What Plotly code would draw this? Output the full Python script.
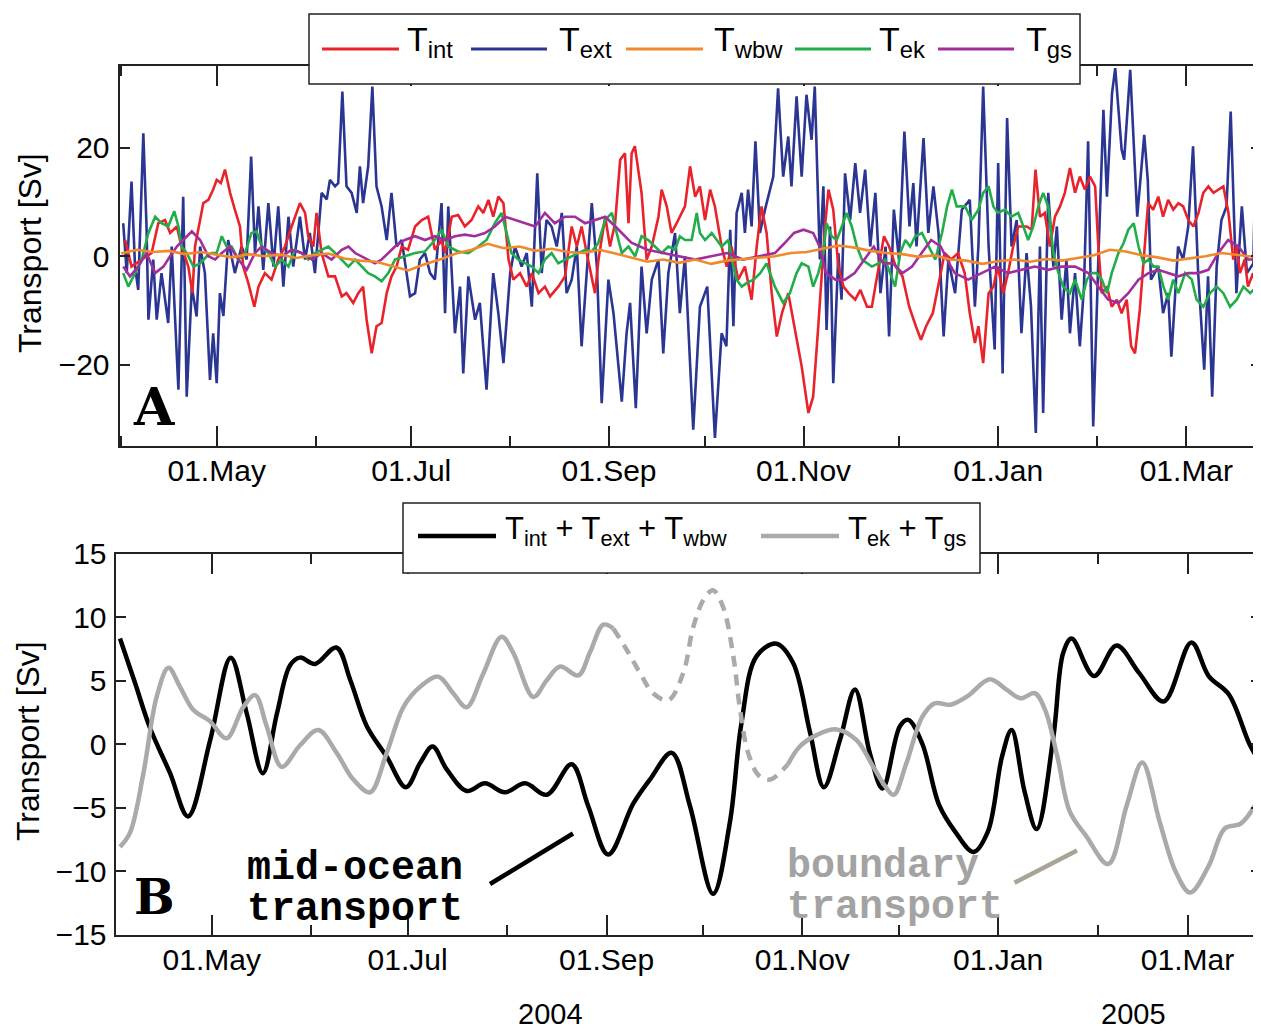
import pandas as pd
import plotly.graph_objects as go

START = pd.Timestamp("2004-04-01")

# ---------------- Panel A data (day offset from 2004-04-01, Sv) ----------------
ext_days = [0.7,1.8,3.3,4.4,5.4,7.0,8.0,8.6,10.1,11.2,12.7,14.8,15.9,18.0,19.5,20.6,22.2,23.7,24.8,26.3,
            27.9,28.9,30.0,31.0,32.1,33.6,35.7,37.8,39.4,40.8,42.0,43.1,44.6,46.2,47.8,49.3,50.9,52.5,54.0,56.1,
            57.7,59.2,60.8,62.9,64.5,65.5,67.1,68.1,69.4,70.7,72.3,73.9,74.9,75.9,77.5,78.8,80.1,81.7,83.3,84.8,
            86.4,88.0,
            90.6,92.2,93.7,95.3,96.9,98.4,100.5,101.6,102.6,104.7,106.3,107.3,108.9,111.0,112.5,114.6,116.7,118.3,119.9,122.0,
            123.5,125.6,127.2,128.8,130.5,131.9,133.4,135.0,136.6,138.2,139.7,141.3,142.9,144.4,146.0,147.6,149.2,150.7,152.8,154.4,
            157.0,158.5,159.6,161.4,163.2,164.8,166.4,168.5,170.0,171.6,173.7,175.2,
            176.8,179.4,181.5,183.8,186.2,188.3,189.8,191.0,192.0,193.0,194.6,195.6,196.6,197.7,198.9,200.3,201.9,203.4,204.5,206.0,
            207.6,209.2,210.2,211.8,213.4,214.9,216.5,217.5,219.1,220.2,221.2,222.3,223.3,224.9,225.9,227.0,228.6,230.2,231.7,233.3,
            234.9,236.5,238.1,239.7,240.8,242.3,243.9,245.6,247.2,248.4,249.4,251.6,253.1,254.7,256.3,257.9,259.4,261.5,263.6,
            266.1,267.7,268.8,270.3,272.0,273.9,275.0,276.4,277.8,279.2,280.8,282.3,283.9,285.3,286.8,288.1,289.1,290.7,292.3,293.4,
            294.9,296.4,297.5,299.1,300.6,301.9,303.2,304.8,306.4,308.0,309.1,310.7,311.7,313.7,314.5,316.4,318.6,320.8,321.9,322.9,
            325.2,326.7,328.3,329.3,331.4,333.0,334.6,336.1,337.7,339.6,340.8,342.1,343.5,345.0,346.6,347.9,349.7,351.4,353.0,355.0,
            356.0,357.1]
ext_vals = [6.1,-3.1,13.8,-1.9,-6.2,22.7,5.5,-11.7,-0.6,-11.7,-3.1,-12.3,1.8,-24.6,11.0,-25.9,-5.6,-11.1,1.8,-3.1,
            -22.8,-14.2,-23.4,-6.8,-11.0,3.0,-3.1,1.8,-0.6,18.4,0.6,9.2,-2.5,9.8,-1.9,9.2,-5.6,7.3,-1.9,7.3,
            -0.6,4.3,-3.1,11.7,10.5,14.1,12.9,13.5,30.4,12.9,11.7,8.0,16.6,9.8,16.6,31.3,12.9,9.2,3.0,11.7,
            1.8,3.0,
            -7.4,-6.8,-0.6,0.6,-3.1,-4.3,9.8,-10.5,9.2,-14.2,-5.6,-21.6,-3.7,-11.7,-8.6,-24.6,-3.1,-10.5,-19.7,-3.1,
            1.8,-1.9,0.6,-9.3,15.3,-3.1,6.7,5.5,1.8,8.0,-6.8,-4.3,1.8,-16.6,-3.1,9.8,-1.9,-27.1,-4.3,-10.5,
            -26.8,-14.2,-8.6,-28.0,-1.9,-14.2,-4.3,-0.6,-17.9,-3.1,4.3,-10.5,
            0.0,-32.0,-9.3,-5.6,-33.5,-14.2,-16.6,4.9,-12.9,8.0,11.7,4.3,12.3,5.5,21.2,4.3,8.6,12.3,14.7,31.0,
            14.7,22.1,12.9,29.5,14.7,29.8,21.5,31.3,-0.6,12.9,-13.6,5.5,-23.4,0.6,-8.0,15.3,6.7,17.2,8.0,16.0,
            1.8,11.7,-6.8,1.8,-14.8,8.6,-0.6,23.0,5.5,13.5,1.8,21.8,4.3,12.9,4.3,-14.8,-0.6,-6.8,8.6,
            10.4,-9.3,1.8,31.3,1.8,-17.2,17.2,-21.6,25.5,1.8,6.7,-14.2,0.6,-9.3,-32.6,1.8,-28.9,11.7,-1.9,5.5,
            -11.7,-0.6,-14.2,-3.1,-16.6,-5.6,21.2,-31.4,-0.6,27.0,11.0,30.1,34.7,19.7,17.8,34.4,7.3,22.4,14.1,-4.3,
            -1.9,-10.5,-6.8,-18.5,1.8,-0.6,5.5,20.3,-3.1,-20.9,-3.7,-25.9,-1.9,6.7,9.2,26.7,-6.8,9.2,-3.1,-1.3,
            26.4,11.7]

int_days = [1.3,3.3,6.5,9.6,11.7,13.8,15.4,17.5,19.0,21.1,22.4,23.2,24.8,25.8,27.4,28.9,30.0,31.3,32.6,34.2,
            35.7,37.3,38.3,39.9,41.8,43.1,45.1,47.2,49.3,51.4,53.5,56.1,57.7,58.7,60.3,61.3,62.9,65.0,67.1,69.2,
            70.7,72.8,74.4,75.9,77.0,78.6,80.1,81.7,83.3,84.8,86.4,88.0,
            90.0,92.2,94.3,96.3,98.4,100.5,101.6,103.7,105.7,107.8,109.9,112.0,113.6,115.2,116.7,118.3,119.9,121.5,123.0,125.1,
            127.2,128.8,130.9,132.9,134.5,137.1,139.2,141.3,142.9,144.4,146.0,147.6,148.6,149.7,151.8,153.3,154.9,156.5,158.0,159.1,
            160.1,161.1,163.2,164.8,166.4,168.5,169.5,171.1,172.6,174.2,
            176.8,178.4,180.0,181.5,183.1,184.7,186.2,188.3,189.9,191.4,193.5,195.6,197.7,199.3,200.8,202.4,204.0,205.6,207.2,209.2,
            211.3,213.4,215.5,217.0,218.6,219.7,220.7,221.8,223.3,224.9,226.5,228.1,230.2,231.8,233.9,235.4,237.5,239.2,240.8,242.9,
            245.0,247.1,249.2,250.8,252.4,254.5,256.6,258.2,260.3,262.4,264.5,
            266.1,267.7,268.8,270.3,272.0,273.5,274.9,276.6,278.1,279.7,281.3,284.0,285.5,286.7,288.1,289.6,291.2,292.8,294.4,295.9,
            297.5,299.1,300.6,302.2,303.8,305.4,306.4,307.5,309.1,310.6,312.2,313.7,315.3,316.7,317.9,319.4,321.0,322.0,323.6,325.2,
            326.7,328.3,329.9,331.5,333.0,334.6,336.2,337.8,339.3,340.9,342.5,344.0,345.6,347.2,348.7,349.7,350.8,352.3,353.3,354.9,
            356.5]
int_vals = [3.0,-1.9,-0.6,0.6,6.1,6.7,4.3,5.5,1.8,-1.9,-6.8,1.8,6.7,9.8,10.4,12.3,14.1,13.5,16.0,11.7,
            8.6,5.5,-1.9,-4.9,-9.3,-5.6,-3.1,-4.3,-0.6,1.8,5.5,9.8,8.0,3.7,1.8,8.0,0.6,-3.7,-3.7,-7.4,
            -6.8,-8.6,-6.8,-5.6,-11.7,-17.9,-12.9,-12.3,-6.8,-3.7,-1.9,1.8,
            1.2,5.5,6.7,7.3,1.2,3.0,0.6,7.3,7.6,5.5,6.7,9.2,8.0,10.4,7.3,11.0,9.8,-0.6,-4.3,-3.1,
            -5.6,-3.1,-6.8,-5.6,-7.4,-5.6,-3.7,5.5,1.8,5.5,0.6,-3.7,-6.8,-0.6,7.3,1.8,6.1,17.8,19.0,6.1,
            19.0,20.3,11.7,-0.6,1.8,7.3,12.3,9.2,4.3,6.1,
            9.2,16.6,11.0,12.9,6.7,12.3,9.2,1.8,-1.9,1.8,-4.3,-1.9,-8.0,1.8,9.2,4.3,-6.8,-14.8,-10.5,-6.8,
            -13.6,-20.3,-28.9,-25.9,-12.9,-3.7,5.5,12.3,8.6,-1.9,-5.6,-6.8,-8.0,-6.2,-9.3,-9.3,-1.9,3.7,1.8,-1.9,
            -3.7,-9.3,-12.9,-15.4,-12.9,-10.5,-4.3,0.6,-0.6,0.6,-3.1,
            -10.5,-16.0,-12.9,-19.7,-6.8,-5.6,-1.9,-6.8,-3.1,1.8,5.5,5.5,4.9,16.0,7.3,8.0,1.8,7.3,9.2,11.7,
            16.3,11.7,14.7,12.3,14.7,12.9,1.8,-6.8,-5.6,-9.3,-8.0,-10.5,-8.0,-16.6,-17.9,-9.9,1.8,9.8,8.6,11.0,
            7.3,10.4,8.6,9.8,9.2,6.7,5.5,8.0,11.7,12.9,11.7,12.3,12.9,8.0,-0.6,1.8,-3.1,-0.6,-5.6,-3.1,
            -8.0]

ek_days = [0.7,2.3,4.4,6.5,8.6,10.7,12.7,14.8,16.7,18.0,19.0,20.6,22.7,24.8,26.9,28.4,30.0,31.6,33.1,34.7,
           36.8,38.9,40.9,42.5,44.1,46.2,48.3,50.4,52.5,54.5,56.6,58.7,60.8,62.9,65.0,67.1,69.2,71.3,73.4,75.4,
           77.5,79.6,81.7,83.8,85.9,
           89.0,92.2,95.3,98.4,100.5,102.6,105.7,108.9,112.0,114.6,117.2,119.3,120.9,122.4,124.5,126.6,128.8,130.9,132.9,135.0,
           137.1,139.2,141.3,143.4,145.5,147.6,149.6,151.8,153.9,155.4,157.0,159.1,161.2,163.2,165.3,167.4,169.5,171.6,
           173.7,175.2,176.8,178.9,180.5,181.5,183.1,185.2,186.8,188.3,190.4,191.5,193.0,194.6,196.2,198.3,200.4,202.4,205.0,207.6,
           209.7,211.8,213.4,215.5,217.0,218.6,220.2,221.2,222.8,224.4,226.0,227.5,229.1,230.7,232.3,233.8,235.4,237.5,239.6,241.1,
           242.7,244.3,245.9,247.4,249.0,251.1,253.2,255.3,257.4,259.0,260.5,262.0,
           264.6,266.7,268.8,270.3,272.0,273.5,274.9,277.1,279.2,281.3,282.9,284.4,286.0,287.6,289.1,290.7,292.3,293.9,295.4,297.5,
           299.1,301.2,302.8,304.3,305.9,307.5,309.1,310.6,312.7,314.3,315.8,317.5,319.0,320.6,322.1,323.7,325.2,326.8,328.3,329.9,
           331.5,333.6,335.7,337.2,339.3,341.4,343.5,345.6,347.7,349.8,351.9,354.0,356.0,357.1]
ek_vals = [-3.1,-5.6,-3.1,-0.6,4.3,7.3,6.1,5.5,8.3,5.5,1.8,0.6,-1.9,-1.3,0.0,0.6,0.6,3.7,1.8,1.8,
           -0.6,0.6,4.3,4.6,1.8,0.6,-1.9,-0.6,-1.9,1.2,0.6,-0.6,0.6,1.2,1.8,0.6,-0.6,-1.9,-0.6,-1.9,
           -3.1,-3.7,-4.6,-3.1,-0.6,
           0.0,0.6,0.9,3.0,4.9,1.8,0.9,0.6,1.8,3.0,6.1,8.0,4.3,0.6,-0.6,-1.3,-1.9,-3.1,-0.6,0.6,
           -1.3,-0.6,0.0,0.6,1.2,0.9,2.4,6.7,8.0,4.3,0.6,1.8,0.0,3.7,3.0,1.8,0.6,1.8,
           1.2,3.7,3.0,3.0,8.0,4.3,3.0,4.3,3.0,1.8,3.0,-0.6,-4.3,-5.6,-4.9,-4.3,-3.1,-1.3,-5.6,-8.6,
           -6.8,-3.1,-1.3,-1.9,-5.6,-3.1,0.6,6.1,3.7,3.0,5.5,8.0,5.5,1.8,-0.6,-1.3,-1.9,-1.3,-0.6,-3.1,
           -5.6,0.6,3.0,1.8,3.7,4.3,1.8,-0.6,4.3,9.2,12.3,9.2,
           9.2,6.7,8.6,11.7,12.9,9.2,8.0,8.6,7.3,8.0,5.5,3.0,5.5,9.2,11.7,9.2,0.6,-3.1,-5.6,-6.8,
           -4.3,-8.0,-4.3,-3.1,-3.1,-4.3,-6.8,-3.1,0.6,2.4,4.9,6.1,1.8,-1.3,-0.6,-1.9,-1.9,-5.6,-8.0,-4.3,
           -6.8,-3.1,-4.3,-8.0,-9.3,-6.8,-5.6,-6.8,-9.3,-8.0,-5.6,-6.8,-5.6,-6.2]

gs_days = [0.7,2.8,5.4,8.0,10.7,13.3,15.4,17.5,19.5,22.2,24.8,27.4,29.5,31.6,34.2,36.8,39.4,42.0,44.1,47.2,
           50.4,53.5,56.6,59.8,62.9,66.0,69.2,71.3,73.4,75.4,77.5,79.6,81.7,83.8,85.9,
           89.0,92.2,95.3,98.4,101.6,104.7,107.8,110.9,114.1,117.2,120.4,123.5,126.6,129.8,132.9,136.0,139.2,142.3,145.5,148.6,
           151.8,
           155,160,165,170,175,180,185,190,195,200,205,208,211,214,217,219,221,224,227,230,
           233,236,239,242,245,248,251,254,257,259,
           261.4,265.6,269.8,274.0,278.1,282.3,286.5,290.7,294.9,299.1,303.3,306.4,309.5,312.7,315.8,319.0,322.1,325.2,328.3,331.5,
           334.6,337.7,340.9,344.0,347.1,350.3,353.4,356.5]
gs_vals = [-1.9,-3.7,-1.9,0.6,-3.1,-1.9,0.0,1.8,3.0,4.6,3.0,0.0,-0.6,0.6,1.8,-0.6,-2.5,0.6,1.8,0.6,
           0.0,1.2,0.6,-0.6,0.6,-0.6,1.2,1.8,0.6,0.0,-0.6,-1.3,-0.6,0.6,1.8,
           3.0,3.7,3.0,3.7,3.0,3.7,4.0,3.7,4.3,5.5,7.3,6.7,6.1,5.5,8.0,6.1,7.3,7.3,6.1,6.7,
           7.3,
           5.5,2.5,1.2,0.6,0.0,-0.6,0.0,0.6,-0.6,0.0,0.6,2.4,4.3,4.9,4.3,1.8,-3.1,-4.3,-4.3,-3.1,
           -0.6,1.8,-1.3,-1.3,-3.1,-1.9,0.6,3.0,1.8,-0.6,
           -3.1,-4.3,-3.1,-1.9,-3.1,-2.5,-1.9,-2.5,-1.9,-1.9,-3.1,-5.6,-8.0,-8.6,-6.8,-4.3,-3.1,-2.5,-3.1,-3.7,
           -3.1,-3.1,-2.5,0.6,3.0,1.8,-0.6,-0.6]

wbw_days = [0,5,10,15,20,25,30,35,40,45,50,55,60,65,70,75,80,85,90,95,100,105,110,115,120,125,130,135,140,145,
            150,155,160,165,170,175,180,185,190,195,200,205,210,215,220,225,230,235,240,245,250,255,260,265,270,275,
            280,285,290,295,300,305,310,315,320,325,330,335,340,345,350,355,358]
wbw_vals = [0.5,1.2,0.8,1.0,0.4,0.8,0.3,-0.2,0.4,0.0,0.3,-0.3,0.2,0.5,-0.4,-0.8,-1.0,-1.8,-2.6,-1.5,
            -0.6,0.5,1.2,2.3,1.5,1.8,1.0,1.4,0.8,0.6,1.2,0.5,-0.2,-1.0,-0.6,-1.2,-0.6,-1.4,-0.8,-0.5,
            -0.3,0.0,0.6,0.8,1.4,2.0,1.6,1.0,0.6,0.4,-0.1,0.2,-0.6,-0.8,-1.4,-0.9,-0.6,-1.0,-0.5,-0.8,
            -0.3,0.2,1.2,0.9,0.2,-0.2,-0.8,-0.4,0.0,0.6,0.3,-0.1,0.3]

# ---------------- Panel B data ----------------
mid_days = [1.4,6.1,10.7,17.0,22.6,29.5,35.9,40.9,45.9,50.3,54.4,57.5,62.2,68.8,73.2,78.3,84.5,90.5,94.9,98.8,
            103.2,109.4,115.1,121.3,127.6,134.4,142.1,147.3,153.5,161.3,166.5,173.3,179.0,186.2,191.4,195.0,199.7,205.9,211.1,216.4,
            220.7,225.7,230.4,235.0,239.0,244.4,247.0,251.4,256.6,261.6,267.3,271.8,276.2,279.2,283.2,287.0,292.2,295.3,297.9,304.9,
            311.9,318.9,326.6,335.2,340.6,346.9,353.3,356.9]
mid_vals = [8.3,4.8,1.3,-2.3,-5.7,0.3,6.8,2.4,-2.3,2.4,6.2,6.8,6.3,7.6,5.0,1.4,-1.0,-3.4,-1.5,-0.2,
            -2.0,-3.7,-3.1,-3.8,-3.1,-4.0,-1.6,-4.9,-8.7,-4.7,-2.8,-0.7,-4.9,-11.8,-6.2,1.6,6.9,7.9,6.4,0.9,
            -3.4,0.3,4.3,-0.7,-3.5,1.4,1.9,0.0,-4.8,-6.9,-8.5,-6.9,-1.0,1.1,-3.7,-6.7,0.55,7.2,8.3,5.35,
            7.75,5.6,3.35,8.0,5.35,3.9,0.0,-1.6]

bnd1_days = [1.4,4.5,8.7,12.8,16.5,20.1,24.2,29.4,34.6,39.8,43.5,47.1,51.8,57.5,63.2,68.9,74.1,79.3,84.5,89.7,
             94.9,100.6,105.2,109.4,114.5,120.3,123.9,130.2,134.3,138.5,144.2,147.8,152.0,155.1]
bnd1_vals = [-8.1,-7.0,-2.3,3.7,6.0,4.5,2.7,1.8,0.45,2.9,3.85,1.4,-1.8,-0.1,1.1,-0.7,-2.8,-3.8,-0.7,2.9,
             4.5,5.3,4.0,2.9,5.5,8.45,7.2,3.7,5.0,6.1,5.4,7.2,9.4,9.1]
bnd_dash_days = [155.1,159.3,163.4,167.5,172.2,176.9,180.0,183.5,186.2,189.3,192.5,194.5,197.1,200.5,203.9,209.5]
bnd_dash_vals = [9.1,7.4,5.6,4.0,3.45,5.6,9.2,11.5,12.1,10.8,6.9,2.9,-0.7,-2.5,-2.8,-1.6]
bnd2_days = [209.5,213.2,218.4,224.7,230.9,236.1,240.0,242.5,246.3,251.4,255.2,260.3,265.4,272.4,277.5,282.0,286.4,289.6,293.5,297.3,
             302.3,309.3,315.1,319.9,325.3,330.4,334.8,340.6,345.6,350.7,356.9]
bnd2_vals = [-1.6,-0.2,0.7,1.15,0.3,-1.8,-3.4,-4.0,-1.6,2.15,3.2,3.1,3.75,5.1,4.3,3.6,4.0,2.7,-1.05,-5.3,
             -7.2,-9.45,-4.8,-1.45,-6.1,-10.1,-11.7,-9.6,-6.65,-6.25,-4.0]

# ---------------- axis ticks ----------------
major_ticks = ["2004-05-01", "2004-07-01", "2004-09-01", "2004-11-01", "2005-01-01", "2005-03-01"]
major_labels = ["01.May", "01.Jul", "01.Sep", "01.Nov", "01.Jan", "01.Mar"]
a_yticks = [-20, 0, 20]
b_yticks = [-15, -10, -5, 0, 5, 10, 15]

# legend entries
a_names = ["T<sub>int</sub>", "T<sub>ext</sub>", "T<sub>wbw</sub>", "T<sub>ek</sub>", "T<sub>gs</sub>"]
a_colors = ["#e8232b", "#2b3592", "#f08a2c", "#22ad4a", "#a02e9c"]
b_names = ["T<sub>int</sub> + T<sub>ext</sub> + T<sub>wbw</sub>", "T<sub>ek</sub> + T<sub>gs</sub>"]
b_colors = ["black", "#aaaaaa"]


def to_dates(days):
    return [START + pd.Timedelta(days=float(d)) for d in days]


# page body has an 8px margin: figure is sized so that it fills the window
OFF = 8
W, H = 1261 - OFF, 1031 - OFF


def px(x):
    return (x - OFF) / W


def py(y):
    return 1 - (y - OFF) / H


FONT = "Liberation Sans, Arial, sans-serif"

fig = go.Figure()

# Panel A traces (draw order: blue below, orange on top)
a_series = [
    (a_names[1], ext_days, ext_vals, a_colors[1]),
    (a_names[0], int_days, int_vals, a_colors[0]),
    (a_names[3], ek_days, ek_vals, a_colors[3]),
    (a_names[4], gs_days, gs_vals, a_colors[4]),
    (a_names[2], wbw_days, wbw_vals, a_colors[2]),
]
for name, d, v, col in a_series:
    fig.add_trace(go.Scatter(x=to_dates(d), y=v, mode="lines", name=name, showlegend=False,
                             line=dict(color=col, width=2.6), xaxis="x", yaxis="y"))

# Panel B traces
fig.add_trace(go.Scatter(x=to_dates(mid_days), y=mid_vals, mode="lines", name=b_names[0],
                         showlegend=False,
                         line=dict(color="black", width=4.5, shape="spline", smoothing=1.0),
                         xaxis="x2", yaxis="y2"))
solid_x = to_dates(bnd1_days) + [None] + to_dates(bnd2_days)
solid_y = bnd1_vals + [None] + bnd2_vals
fig.add_trace(go.Scatter(x=solid_x, y=solid_y, mode="lines", name=b_names[1], connectgaps=False,
                         showlegend=False,
                         line=dict(color="#aaaaaa", width=4.5, shape="spline", smoothing=1.0),
                         xaxis="x2", yaxis="y2"))
fig.add_trace(go.Scatter(x=to_dates(bnd_dash_days), y=bnd_dash_vals, mode="lines", showlegend=False,
                         line=dict(color="#aaaaaa", width=4.5, shape="spline", smoothing=1.0,
                                   dash="11px,8px"),
                         xaxis="x2", yaxis="y2"))

axis_common = dict(showline=True, linecolor="#222222", linewidth=2, mirror="allticks",
                   ticks="inside", tickcolor="#222222", tickwidth=1.6, showgrid=False,
                   zeroline=False, tickfont=dict(family=FONT, size=30, color="black"),
                   automargin=False)

xa = dict(axis_common, type="date", tickvals=major_ticks, ticktext=major_labels, ticklen=20,
          ticklabelstandoff=-3,
          minor=dict(ticks="inside", ticklen=10, tickwidth=1.6, tickcolor="#222222",
                     dtick="M1", tick0="2004-04-01", showgrid=False))

fig.update_layout(
    width=W, height=H, margin=dict(l=0, r=0, t=0, b=0), autosize=False,
    paper_bgcolor="white", plot_bgcolor="white", showlegend=False,
    xaxis=dict(xa, domain=[px(119.5), 1.0], anchor="y",
               range=[START + pd.Timedelta(days=-0.47), START + pd.Timedelta(days=357.4)]),
    yaxis=dict(axis_common, domain=[py(445.5), py(66)], anchor="x",
               range=[-34.9, 35.1], tickvals=a_yticks, ticklen=10, ticklabelstandoff=2),
    xaxis2=dict(xa, domain=[px(115.5), 1.0], anchor="y2",
                range=[START, START + pd.Timedelta(days=356.9)]),
    yaxis2=dict(axis_common, domain=[py(934.5), py(553.5)], anchor="x2",
                range=[-15, 15], tickvals=b_yticks, ticklen=10, ticklabelstandoff=1),
)

shapes = []
annotations = []

# ---- legend of panel A (box, line samples, labels) ----
shapes.append(dict(type="rect", x0=px(309), x1=px(1080), y0=py(84), y1=py(14),
                   fillcolor="white", line=dict(color="#222222", width=1.5)))
a_line_x = [(322, 399), (471, 547), (626, 703), (795, 871), (938, 1014)]
a_text_x = [405, 557, 712, 877, 1024]
for (x0, x1), tx, name, col in zip(a_line_x, a_text_x, a_names, a_colors):
    shapes.append(dict(type="line", x0=px(x0), x1=px(x1), y0=py(49), y1=py(49),
                       line=dict(color=col, width=3)))
    annotations.append(dict(text=name, x=px(tx), y=py(42), xanchor="left", yanchor="middle",
                            font=dict(family=FONT, size=34, color="black")))

# ---- legend of panel B ----
shapes.append(dict(type="rect", x0=px(403), x1=px(980), y0=py(573), y1=py(503),
                   fillcolor="white", line=dict(color="#222222", width=1.5)))
b_line_x = [(418, 496), (761, 839)]
b_text_x = [503, 846]
for (x0, x1), tx, name, col in zip(b_line_x, b_text_x, b_names, b_colors):
    shapes.append(dict(type="line", x0=px(x0), x1=px(x1), y0=py(536), y1=py(536),
                       line=dict(color=col, width=4.5)))
    annotations.append(dict(text=name, x=px(tx), y=py(531), xanchor="left", yanchor="middle",
                            font=dict(family=FONT, size=31, color="black")))

# connector lines for the text labels
shapes.append(dict(type="line", x0=px(490), y0=py(884), x1=px(573), y1=py(833.5),
                   line=dict(color="black", width=4.5)))
shapes.append(dict(type="line", x0=px(1014.5), y0=py(882.7), x1=px(1077), y1=py(850.5),
                   line=dict(color="#aaa498", width=4.5)))

ann_font = dict(family=FONT, size=32, color="black")
annotations += [
    dict(text="Transport [Sv]", x=px(30), y=py(253), textangle=-90, font=ann_font),
    dict(text="Transport [Sv]", x=px(28), y=py(741), textangle=-90, font=ann_font),
    dict(text="<b>A</b>", x=px(154), y=py(406), font=dict(family="DejaVu Serif", size=52, color="black")),
    dict(text="<b>B</b>", x=px(154), y=py(897), font=dict(family="DejaVu Serif", size=48, color="black")),
    dict(text="2004", x=px(550), y=py(1014), font=dict(family=FONT, size=29, color="black")),
    dict(text="2005", x=px(1133), y=py(1014), font=dict(family=FONT, size=29, color="black")),
    dict(text="<b>mid-ocean</b>", x=px(245), y=py(868), xanchor="left",
         font=dict(family="Liberation Mono", size=40, color="black")),
    dict(text="<b>transport</b>", x=px(245), y=py(909), xanchor="left",
         font=dict(family="Liberation Mono", size=40, color="black")),
    dict(text="<b>boundary</b>", x=px(785), y=py(866), xanchor="left",
         font=dict(family="Liberation Mono", size=40, color="#a3a3a3")),
    dict(text="<b>transport</b>", x=px(785), y=py(907), xanchor="left",
         font=dict(family="Liberation Mono", size=40, color="#a3a3a3")),
]
for a in annotations:
    a.update(xref="paper", yref="paper", showarrow=False)
    a.setdefault("xanchor", "center")
    a.setdefault("yanchor", "middle")
for s in shapes:
    s.update(xref="paper", yref="paper", layer="above")

fig.update_layout(shapes=shapes, annotations=annotations)

fig.write_html("out.html")
